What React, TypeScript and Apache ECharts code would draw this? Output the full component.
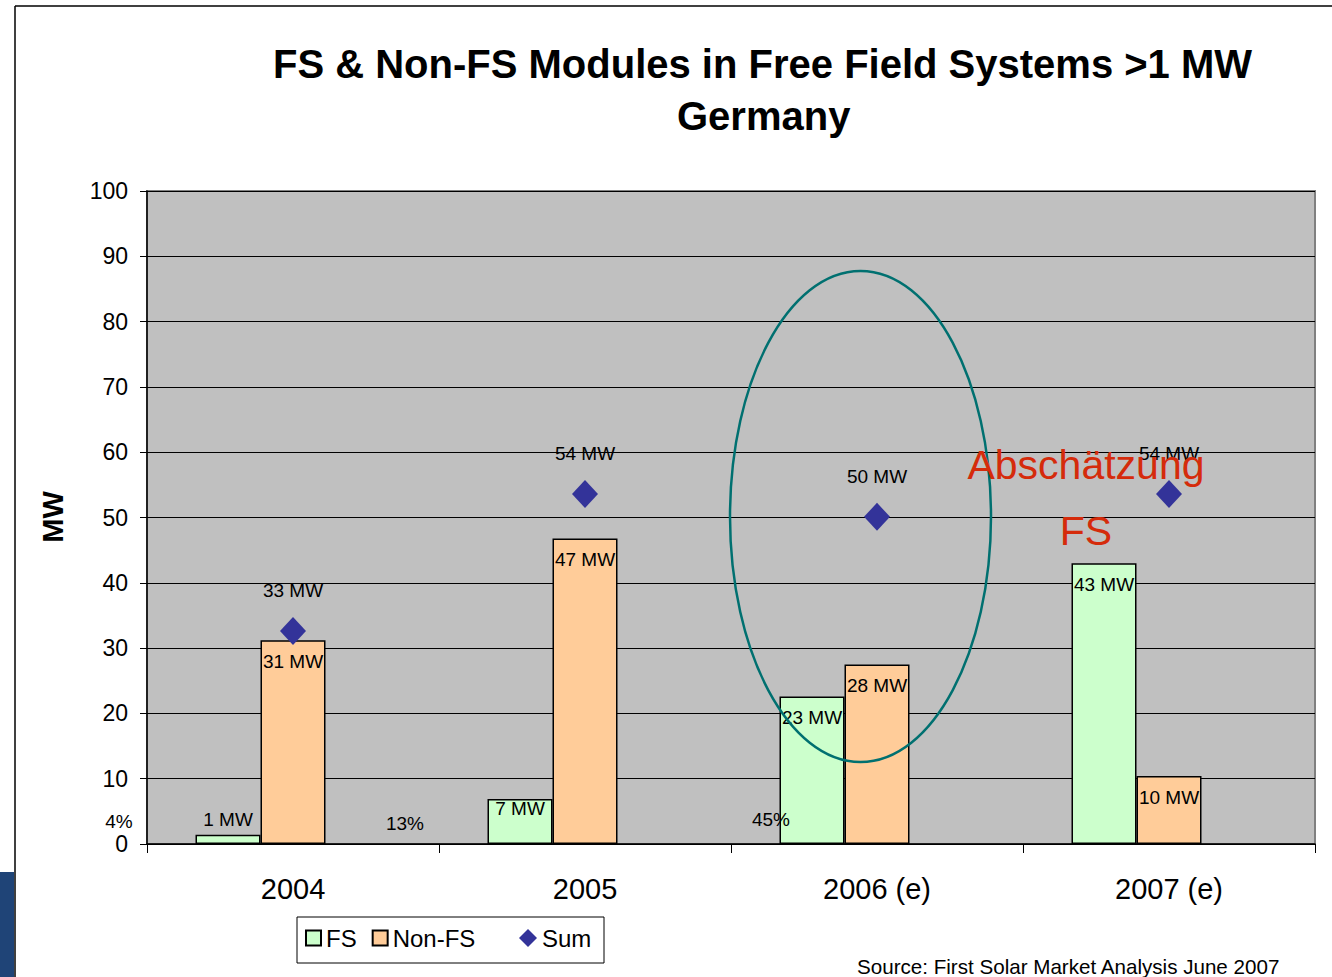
import React, { useEffect, useRef } from 'react';
import * as echarts from 'echarts';

const categories = ['2004', '2005', '2006 (e)', '2007 (e)'];
const fsValues = [1.4, 6.9, 22.6, 43.0];
const nonFsValues = [31.2, 46.8, 27.5, 10.4];
const sumValues = [32.6, 53.6, 50.1, 53.6];
const shareLabels = ['4%', '13%', '45%'];
const titleLines = ['FS & Non-FS Modules in Free Field Systems >1 MW', 'Germany'];
const noteLines = ['Abschätzung', 'FS'];
const sourceText = 'Source: First Solar Market Analysis June 2007';

const FONT = '"Liberation Sans", Arial, sans-serif';

export default function App() {
  const ref = useRef<HTMLDivElement>(null);
  useEffect(() => {
    document.body.style.margin = '0';
    const chart = echarts.init(ref.current!, null, { renderer: 'svg' });
    const mwLabel = (p: any) => Math.round(Number(p.value)) + ' MW';
    const barLabel = {
      show: true,
      position: 'insideTop',
      distance: 12,
      color: '#000',
      fontSize: 19,
      fontFamily: FONT,
      formatter: mwLabel,
    };
    const fsData = fsValues.map((v, i) => {
      if (i === 0) return { value: v, label: { position: 'top', distance: 6 } };
      if (i === 1) return { value: v, label: { distance: 0 } };
      return v;
    });
    const sharePos = [
      [119, 821],
      [405, 823],
      [771, 819],
    ];
    const option: any = {
      animation: false,
      textStyle: { fontFamily: FONT },
      title: [
        {
          text: titleLines[0],
          left: 273,
          top: 44,
          padding: 0,
          textStyle: { fontSize: 40, fontWeight: 'bold', color: '#000', fontFamily: FONT, lineHeight: 40 },
        },
        {
          text: titleLines[1],
          left: 677,
          top: 96,
          padding: 0,
          textStyle: { fontSize: 40, fontWeight: 'bold', color: '#000', fontFamily: FONT, lineHeight: 40 },
        },
      ],
      grid: {
        left: 147,
        right: 17,
        top: 191,
        bottom: 133,
        show: true,
        backgroundColor: '#C0C0C0',
        borderColor: '#808080',
        borderWidth: 2,
      },
      xAxis: {
        type: 'category',
        data: categories,
        axisLine: { lineStyle: { color: '#000', width: 1.5 } },
        axisTick: { show: true, length: 9, lineStyle: { color: '#000' } },
        axisLabel: { fontSize: 29, color: '#000', margin: 30, fontFamily: FONT },
        splitLine: { show: false },
      },
      yAxis: {
        type: 'value',
        min: 0,
        max: 100,
        interval: 10,
        axisLine: { show: true, lineStyle: { color: '#000', width: 1.5 } },
        axisTick: { show: true, length: 7, lineStyle: { color: '#000' } },
        axisLabel: { fontSize: 23, color: '#000', margin: 19, fontFamily: FONT },
        splitLine: { show: true, lineStyle: { color: '#000', width: 1 } },
      },
      legend: [
        {
          data: [
            { name: 'FS', icon: 'rect' },
            { name: 'Non-FS', icon: 'rect' },
          ],
          left: 305,
          top: 926,
          itemWidth: 15,
          itemHeight: 15,
          itemGap: 15,
          padding: 0,
          textStyle: { fontSize: 24, color: '#000', fontFamily: FONT },
        },
        {
          data: [{ name: 'Sum', icon: 'diamond' }],
          left: 519,
          top: 926,
          itemWidth: 18,
          itemHeight: 18,
          padding: 0,
          textStyle: { fontSize: 24, color: '#000', fontFamily: FONT },
        },
      ],
      series: [
        {
          name: 'FS',
          type: 'bar',
          data: fsData,
          barWidth: 65,
          barGap: '0%',
          itemStyle: { color: '#CCFFCC', borderColor: '#000', borderWidth: 1.5 },
          label: barLabel,
        },
        {
          name: 'Non-FS',
          type: 'bar',
          data: nonFsValues,
          barWidth: 65,
          barGap: '0%',
          itemStyle: { color: '#FFCC99', borderColor: '#000', borderWidth: 1.5 },
          label: barLabel,
        },
        {
          name: 'spacer',
          type: 'bar',
          data: categories.map(() => '-'),
          barWidth: 65,
          barGap: '0%',
          silent: true,
          itemStyle: { color: 'transparent', borderWidth: 0 },
        },
        {
          name: 'Sum',
          type: 'scatter',
          data: sumValues,
          symbol: 'diamond',
          symbolSize: [26, 28],
          z: 5,
          itemStyle: { color: '#333399', opacity: 1 },
          label: {
            show: true,
            position: 'top',
            distance: 17,
            color: '#000',
            fontSize: 19,
            fontFamily: FONT,
            formatter: mwLabel,
          },
        },
      ],
      graphic: [
        { type: 'line', shape: { x1: 15, y1: 6, x2: 1332, y2: 6 }, style: { stroke: '#000', lineWidth: 1.5 } },
        { type: 'line', shape: { x1: 15, y1: 6, x2: 15, y2: 977 }, style: { stroke: '#000', lineWidth: 1.5 } },
        { type: 'rect', shape: { x: 0, y: 872, width: 14, height: 105 }, style: { fill: '#1F4477' } },
        {
          type: 'rect',
          shape: { x: 297, y: 917, width: 307, height: 46 },
          style: { fill: 'none', stroke: '#000', lineWidth: 1 },
        },
        {
          type: 'text',
          x: 53,
          y: 517,
          rotation: Math.PI / 2,
          style: { text: 'MW', font: `bold 29px ${FONT}`, fill: '#000', textAlign: 'center', textVerticalAlign: 'middle' },
        },
        ...shareLabels.map((t, i) => ({
          type: 'text',
          x: sharePos[i][0],
          y: sharePos[i][1],
          z: 50,
          style: { text: t, font: `19px ${FONT}`, fill: '#000', textAlign: 'center', textVerticalAlign: 'middle' },
        })),
        {
          type: 'ellipse',
          z: 100,
          shape: { cx: 860.5, cy: 516.5, rx: 130.5, ry: 245.5 },
          style: { fill: 'none', stroke: '#007070', lineWidth: 2.5 },
        },
        {
          type: 'text',
          x: 1086,
          y: 465,
          z: 100,
          style: { text: noteLines[0], font: `41px ${FONT}`, fill: '#D52B0B', textAlign: 'center', textVerticalAlign: 'middle' },
        },
        {
          type: 'text',
          x: 1086,
          y: 531,
          z: 100,
          style: { text: noteLines[1], font: `41px ${FONT}`, fill: '#D52B0B', textAlign: 'center', textVerticalAlign: 'middle' },
        },
        {
          type: 'text',
          x: 857,
          y: 966,
          style: { text: sourceText, font: `20.6px ${FONT}`, fill: '#000', textAlign: 'left', textVerticalAlign: 'middle' },
        },
      ],
    };
    chart.setOption(option);
    return () => chart.dispose();
  }, []);
  return <div ref={ref} style={{ width: 1332, height: 977 }} />;
}
